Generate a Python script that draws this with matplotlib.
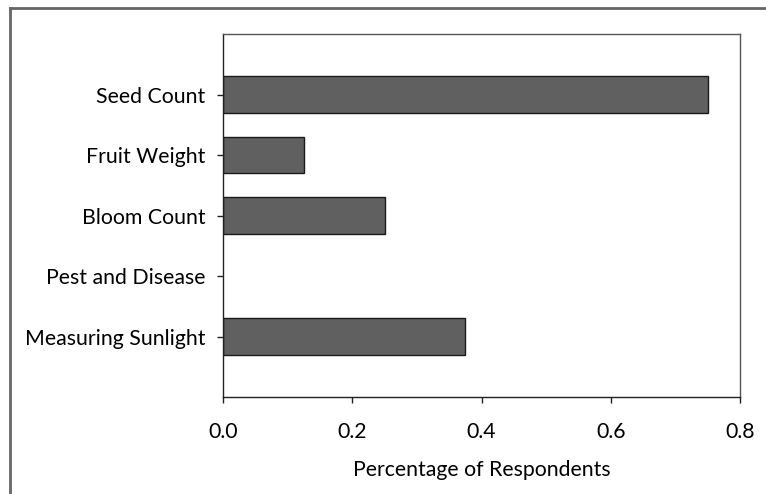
import matplotlib
matplotlib.use("Agg")
import matplotlib.pyplot as plt
from matplotlib.lines import Line2D

# survey results
categories = ["Seed Count", "Fruit Weight", "Bloom Count", "Pest and Disease", "Measuring Sunlight"]
values = [0.75, 0.125, 0.25, 0.0, 0.375]
xticks = [0.0, 0.2, 0.4, 0.6, 0.8]

plt.rcParams['font.family'] = ['Lato', 'DejaVu Sans']
fs = 15.3

fig = plt.figure(figsize=(7.66, 4.94), dpi=100)
ax = fig.add_axes([223 / 766, 1 - 397 / 494, (740 - 223) / 766, (397 - 34) / 494])

pos = list(range(len(categories)))
edges = ["#1a1a1a" if v > 0 else "none" for v in values]
ax.barh(pos, values, height=0.6, color="#606060", edgecolor=edges, linewidth=1)

ax.set_ylim(len(categories), -1)
ax.set_xlim(0, 0.8)
ax.set_yticks(pos)
ax.set_yticklabels(categories, fontsize=fs)
ax.set_xticks(xticks)
ax.set_xticklabels(["%.1f" % t for t in xticks], fontsize=fs)
ax.set_xlabel("Percentage of Respondents", fontsize=fs, labelpad=13)

for s in ax.spines.values():
    s.set_color("#555555")
    s.set_linewidth(1)
ax.spines['left'].set_color("#222222")
ax.spines['bottom'].set_color("#222222")
ax.tick_params(axis='y', length=4.3, width=1, pad=8.5, color="#222222")
ax.tick_params(axis='x', length=4.3, width=1, pad=13.5, color="#222222")

# outer frame (only left and top visible)
fig.add_artist(Line2D([10 / 766, 10 / 766], [0, 1 - 8 / 494], transform=fig.transFigure,
                      color="#666666", linewidth=2))
fig.add_artist(Line2D([10 / 766, 1], [1 - 8 / 494, 1 - 8 / 494], transform=fig.transFigure,
                      color="#666666", linewidth=2))

fig.savefig("out.png", dpi=100)
